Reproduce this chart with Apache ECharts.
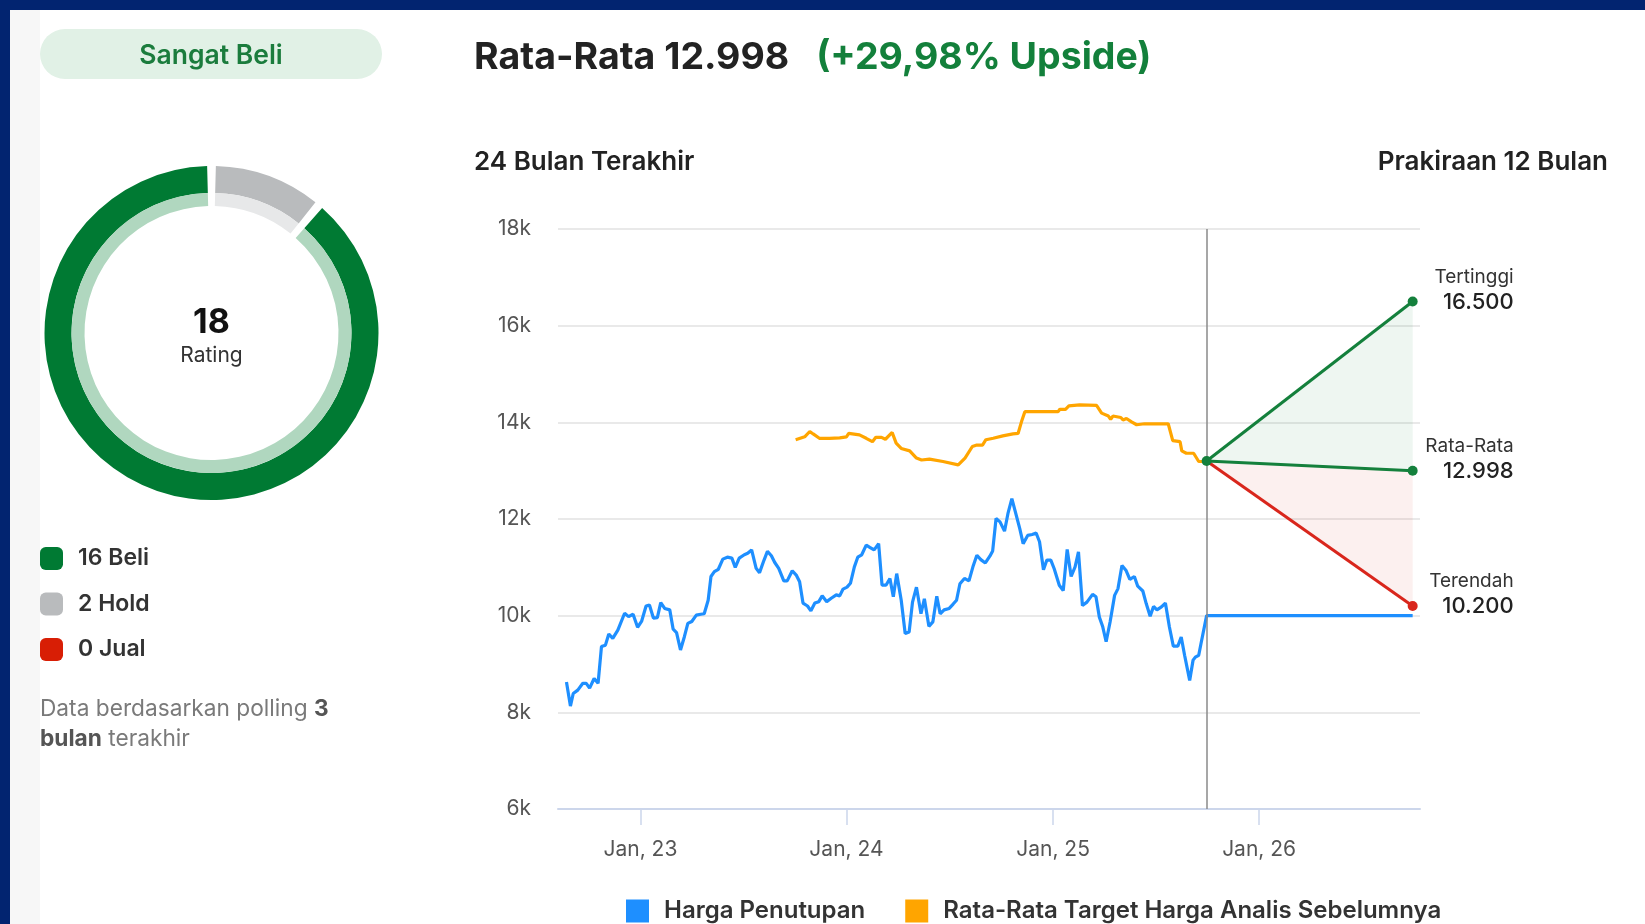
<!DOCTYPE html>
<html><head><meta charset="utf-8">
<script src="https://cdn.jsdelivr.net/npm/echarts@6/dist/echarts.min.js"></script>
<style>html,body{margin:0;padding:0;background:#fff}#c{width:1645px;height:924px}</style>
</head><body><div id="c"></div>
<script>
// ---- data ----
const ratingNames = ['Beli', 'Hold', 'Jual'];
const ratingCounts = [16, 2, 0];

const closeDates = ['2022-08-23','2022-08-30','2022-09-04','2022-09-12','2022-09-21','2022-09-27','2022-10-03','2022-10-11','2022-10-18','2022-10-24','2022-10-31','2022-11-06','2022-11-13','2022-11-22','2022-12-04','2022-12-11','2022-12-19','2022-12-27',
'2023-01-03','2023-01-11','2023-01-17','2023-01-24','2023-01-31','2023-02-06','2023-02-13','2023-02-22','2023-02-28','2023-03-06','2023-03-13','2023-03-20','2023-03-26','2023-04-02','2023-04-10','2023-04-18','2023-04-24','2023-05-01','2023-05-06','2023-05-12','2023-05-19','2023-05-27','2023-06-04','2023-06-12','2023-06-18','2023-06-25','2023-07-04','2023-07-10','2023-07-17','2023-07-25','2023-07-31','2023-08-08','2023-08-14','2023-08-21','2023-08-27','2023-09-03','2023-09-12','2023-09-18','2023-09-27','2023-10-04','2023-10-10','2023-10-16','2023-10-24','2023-10-30','2023-11-06','2023-11-13','2023-11-19','2023-11-27','2023-12-05','2023-12-14','2023-12-20','2023-12-26',
'2024-01-02','2024-01-08','2024-01-15','2024-01-21','2024-01-28','2024-02-05','2024-02-12','2024-02-19','2024-02-27','2024-03-04','2024-03-11','2024-03-18','2024-03-24','2024-03-30','2024-04-07','2024-04-14','2024-04-21','2024-04-27','2024-05-04','2024-05-12','2024-05-18','2024-05-26','2024-06-02','2024-06-09','2024-06-15','2024-06-22','2024-07-01','2024-07-08','2024-07-14','2024-07-20','2024-07-28','2024-08-05','2024-08-12','2024-08-19','2024-08-26','2024-09-03','2024-09-11','2024-09-16','2024-09-22','2024-09-29','2024-10-07','2024-10-13','2024-10-20','2024-10-27','2024-11-03','2024-11-09','2024-11-17','2024-11-25','2024-12-02','2024-12-08','2024-12-15','2024-12-21','2024-12-28',
'2025-01-03','2025-01-12','2025-01-19','2025-01-26','2025-02-02','2025-02-09','2025-02-15','2025-02-22','2025-03-02','2025-03-12','2025-03-18','2025-03-24','2025-03-30','2025-04-05','2025-04-12','2025-04-20','2025-04-26','2025-05-03','2025-05-10','2025-05-17','2025-05-25','2025-05-31','2025-06-09','2025-06-15','2025-06-22','2025-06-28','2025-07-04','2025-07-12','2025-07-19','2025-07-26','2025-08-02','2025-08-10','2025-08-16','2025-08-22','2025-08-31','2025-09-06','2025-09-10','2025-09-16','2025-09-20'];
const closeValues = [8630,8130,8390,8460,8600,8600,8500,8700,8600,9360,9390,9620,9530,9700,10050,9980,10030,9760,
9880,10200,10220,9950,9960,10270,10150,10120,9720,9650,9290,9570,9840,9880,10010,10030,10040,10320,10810,10910,10960,11170,11210,11190,11000,11190,11260,11290,11360,10980,10890,11150,11330,11240,11100,10980,10720,10720,10930,10840,10700,10260,10200,10100,10260,10290,10410,10290,10360,10430,10410,10550,
10590,10670,11010,11210,11260,11460,11410,11360,11490,10630,10630,10770,10390,10870,10320,9630,9660,10280,10590,10040,10350,9780,9870,10400,10040,10120,10150,10240,10320,10660,10770,10720,11010,11250,11160,11090,11230,11340,12010,11940,11750,12110,12420,12110,11800,11490,11660,11680,11710,11530,10950,11150,11150,
10970,10630,10520,11370,10810,11010,11320,10210,10280,10440,10390,9970,9770,9460,9870,10420,10560,11040,10940,10750,10810,10610,10510,10250,9990,10190,10120,10180,10260,9770,9370,9370,9560,9180,8660,9080,9140,9180,9420];

const targetDates = ['2023-10-03','2023-10-19','2023-10-28','2023-11-03','2023-11-14','2023-12-02','2023-12-20','2024-01-01','2024-01-05','2024-01-24','2024-02-05','2024-02-16','2024-02-22','2024-03-03','2024-03-10','2024-03-22','2024-03-29','2024-04-07','2024-04-22','2024-05-04','2024-05-13','2024-05-27','2024-06-20','2024-07-17','2024-07-29','2024-08-11','2024-08-19','2024-08-29','2024-09-04','2024-09-17','2024-10-04','2024-10-22','2024-10-31','2024-11-06','2024-11-12','2024-12-14','2025-01-10','2025-01-13','2025-01-23','2025-01-29','2025-02-17','2025-03-19','2025-03-28','2025-04-09','2025-04-13','2025-04-17','2025-05-01','2025-05-05','2025-05-11','2025-05-20','2025-05-29','2025-06-12','2025-07-24','2025-08-01','2025-08-14','2025-08-17','2025-08-25','2025-09-07','2025-09-16','2025-09-26'];
const targetValues = [13640,13700,13810,13760,13670,13670,13680,13700,13770,13740,13670,13600,13690,13690,13650,13790,13570,13460,13410,13260,13220,13240,13190,13120,13260,13500,13530,13530,13640,13670,13720,13760,13770,14010,14220,14220,14220,14270,14270,14340,14360,14350,14190,14130,14060,14130,14100,14050,14080,14010,13950,13970,13970,13620,13600,13410,13360,13360,13190,13190];

const forecastDates = ['2025-09-30', '2026-09-30'];
const forecastStart = 13200;
const forecastHigh = 16500;
const forecastAvg = 12998;
const forecastLow = 10200;
const currentPrice = 10000;

const axisRange = ['2022-08-08', '2026-10-13'];

// ---- helpers ----
const FONT = 'Inter';
const fmt = v => String(v).replace(/\B(?=(\d{3})+(?!\d))/g, '.');
const t = s => new Date(s + 'T00:00:00').getTime();
const total = ratingCounts.reduce((a, b) => a + b, 0);
const upside = ((forecastAvg / currentPrice - 1) * 100).toFixed(2).replace('.', ',');

const darkColors = {Beli: '#007a33', Hold: '#b9bbbd', Jual: '#d81e05'};
const lightColors = {Beli: '#b0d7bf', Hold: '#e7e8e9', Jual: '#f3b3aa'};
const pieOrder = ['Hold', 'Beli', 'Jual'];
const pieData = colors => pieOrder.map(n => {
  const c = ratingCounts[ratingNames.indexOf(n)];
  return {name: n, value: c > 0 ? c : '-', itemStyle: {color: colors[n]}};
});

const BLUE = '#1e8fff', ORANGE = '#ffa500', GREEN = '#14803c', RED = '#d9261c';

const endLabel = (title, val) => ({
  show: true, position: [106, -7], align: 'right', verticalAlign: 'middle',
  formatter: '{l|' + title + '}\n{v|' + fmt(val) + '}',
  rich: {
    l: {fontFamily: FONT, fontSize: 19, color: '#333', align: 'right', lineHeight: 25},
    v: {fontFamily: FONT, fontSize: 22, fontWeight: 500, color: '#222', align: 'right', lineHeight: 25}
  }
});
const forecastSeries = (name, val, color) => ({
  type: 'line', name: name, symbol: 'circle', symbolSize: 10, showSymbol: true,
  lineStyle: {color: color, width: 3}, itemStyle: {color: color},
  silent: true, z: 5,
  data: [
    {value: [t(forecastDates[0]), forecastStart], symbol: name === 'Tertinggi' ? 'circle' : 'none', itemStyle: {color: GREEN}},
    {value: [t(forecastDates[1]), val], label: endLabel(name, val)}
  ]
});

const chart = echarts.init(document.getElementById('c'));
chart.setOption({
  animation: false,
  textStyle: {fontFamily: FONT},
  title: [
    {text: '{a|Rata-Rata ' + fmt(forecastAvg) + '}{b|(+' + upside + '% Upside)}', left: 474, top: 37, padding: 0,
     textStyle: {rich: {
       a: {fontFamily: FONT, fontSize: 37.5, fontWeight: 700, color: '#222', lineHeight: 42},
       b: {fontFamily: FONT, fontSize: 37.5, fontWeight: 700, color: '#13803b', lineHeight: 42, padding: [0, 0, 0, 27]}
     }}},
    {text: '24 Bulan Terakhir', left: 474, top: 147, padding: 0,
     textStyle: {fontFamily: FONT, fontSize: 26, fontWeight: 600, color: '#222', lineHeight: 30}},
    {text: 'Prakiraan 12 Bulan', right: 37, top: 147, padding: 0,
     textStyle: {fontFamily: FONT, fontSize: 26, fontWeight: 600, color: '#222', lineHeight: 30}},
    {text: '{n|Data berdasarkan polling }{b|3}\n{b|bulan}{n| terakhir}', left: 40, top: 694, padding: 0,
     textStyle: {rich: {
       n: {fontFamily: FONT, fontSize: 22.7, fontWeight: 'normal', color: '#7a7a7a', lineHeight: 30},
       b: {fontFamily: FONT, fontSize: 22.7, fontWeight: 700, color: '#555', lineHeight: 30}
     }}}
  ],
  legend: [
    {data: ratingNames, orient: 'vertical', left: 40, top: 547, padding: 0,
     itemWidth: 23, itemHeight: 23, itemGap: 22.5, icon: 'roundRect', selectedMode: false,
     formatter: n => ratingCounts[ratingNames.indexOf(n)] + ' ' + n,
     textStyle: {fontFamily: FONT, fontSize: 23, fontWeight: 600, color: '#333', padding: [0, 0, 0, 10]}},
    {data: ['Harga Penutupan', 'Rata-Rata Target Harga Analis Sebelumnya'], left: 626, top: 899, padding: 0,
     itemWidth: 23, itemHeight: 23, itemGap: 40, icon: 'rect', selectedMode: false,
     textStyle: {fontFamily: FONT, fontSize: 24, fontWeight: 600, color: '#333', padding: [0, 0, 0, 10]}}
  ],
  grid: {left: 558, right: 225, top: 229, bottom: 115, containLabel: false},
  xAxis: {
    type: 'time', min: t(axisRange[0]), max: t(axisRange[1]),
    minInterval: 365 * 864e5, maxInterval: 366 * 864e5,
    splitLine: {show: false},
    axisLine: {lineStyle: {color: '#ccd6eb', width: 2}},
    axisTick: {show: true, length: 16, lineStyle: {color: '#ccd6eb', width: 1.5}},
    axisLabel: {
      margin: 30, fontFamily: FONT, fontSize: 21, color: '#555',
      formatter: v => { const d = new Date(v); return (d.getMonth() === 0 && d.getDate() === 1) ? 'Jan, ' + String(d.getFullYear()).slice(2) : ''; }
    }
  },
  yAxis: {
    type: 'value', min: 6000, max: 18000, interval: 2000,
    axisLine: {show: false}, axisTick: {show: false},
    splitLine: {lineStyle: {color: '#e9e9e9', width: 2}},
    axisLabel: {margin: 27, fontFamily: FONT, fontSize: 21, color: '#555', formatter: v => (v / 1000) + 'k'}
  },
  graphic: [
    {type: 'rect', shape: {x: 10, y: 10, width: 30, height: 914}, style: {fill: '#f7f7f7'}, z: -10},
    {type: 'rect', shape: {x: 0, y: 0, width: 1645, height: 10}, style: {fill: '#022470'}, z: 100},
    {type: 'rect', shape: {x: 0, y: 0, width: 10, height: 924}, style: {fill: '#022470'}, z: 100},
    {type: 'rect', shape: {x: 40, y: 29, width: 342, height: 50, r: 25}, style: {fill: '#e1f1e6'}},
    {type: 'text', x: 211, y: 56, style: {text: 'Sangat Beli', font: '600 26.5px Inter', fill: '#1b7c3d', align: 'center', verticalAlign: 'middle'}},
    {type: 'text', x: 211.5, y: 323, style: {text: String(total), font: '700 34px Inter', fill: '#111', align: 'center', verticalAlign: 'middle'}},
    {type: 'text', x: 211.5, y: 356, style: {text: 'Rating', font: '21px Inter', fill: '#333', align: 'center', verticalAlign: 'middle'}}
  ],
  series: [
    {type: 'pie', name: 'RatingOuter', center: [211.5, 333], radius: [140, 167], startAngle: 90, padAngle: 3,
     label: {show: false}, labelLine: {show: false}, silent: true, emphasis: {disabled: true}, data: pieData(darkColors)},
    {type: 'pie', name: 'RatingInner', center: [211.5, 333], radius: [127, 140], startAngle: 90, padAngle: 3,
     label: {show: false}, labelLine: {show: false}, silent: true, emphasis: {disabled: true}, data: pieData(lightColors)},
    {type: 'custom', name: 'range', silent: true, z: 1,
     data: [[t(forecastDates[0]), forecastStart]],
     renderItem: (params, api) => {
       const s = api.coord([t(forecastDates[0]), forecastStart]);
       const h = api.coord([t(forecastDates[1]), forecastHigh]);
       const a = api.coord([t(forecastDates[1]), forecastAvg]);
       const l = api.coord([t(forecastDates[1]), forecastLow]);
       return {type: 'group', children: [
         {type: 'polygon', shape: {points: [s, h, a]}, style: {fill: 'rgba(20,128,60,0.07)'}},
         {type: 'polygon', shape: {points: [s, a, l]}, style: {fill: 'rgba(217,38,28,0.07)'}}
       ]};
     }},
    {type: 'line', name: 'Harga Penutupan', showSymbol: false, symbol: 'none', silent: true, z: 3,
     lineStyle: {color: BLUE, width: 3.2}, itemStyle: {color: BLUE},
     data: closeDates.map((d, i) => [t(d), closeValues[i]])
       .concat([[t(forecastDates[0]), currentPrice], [t(forecastDates[1]), currentPrice]]),
     markLine: {silent: true, symbol: ['none', 'none'], label: {show: false},
       lineStyle: {color: '#8a8a8a', width: 1.5, type: 'solid'},
       data: [{xAxis: t(forecastDates[0])}]}},
    {type: 'line', name: 'Rata-Rata Target Harga Analis Sebelumnya', showSymbol: false, symbol: 'none', silent: true, z: 3,
     lineStyle: {color: ORANGE, width: 3.2}, itemStyle: {color: ORANGE},
     data: targetDates.map((d, i) => [t(d), targetValues[i]])},
    forecastSeries('Terendah', forecastLow, RED),
    forecastSeries('Rata-Rata', forecastAvg, GREEN),
    forecastSeries('Tertinggi', forecastHigh, GREEN)
  ]
});
</script>
</body></html>
